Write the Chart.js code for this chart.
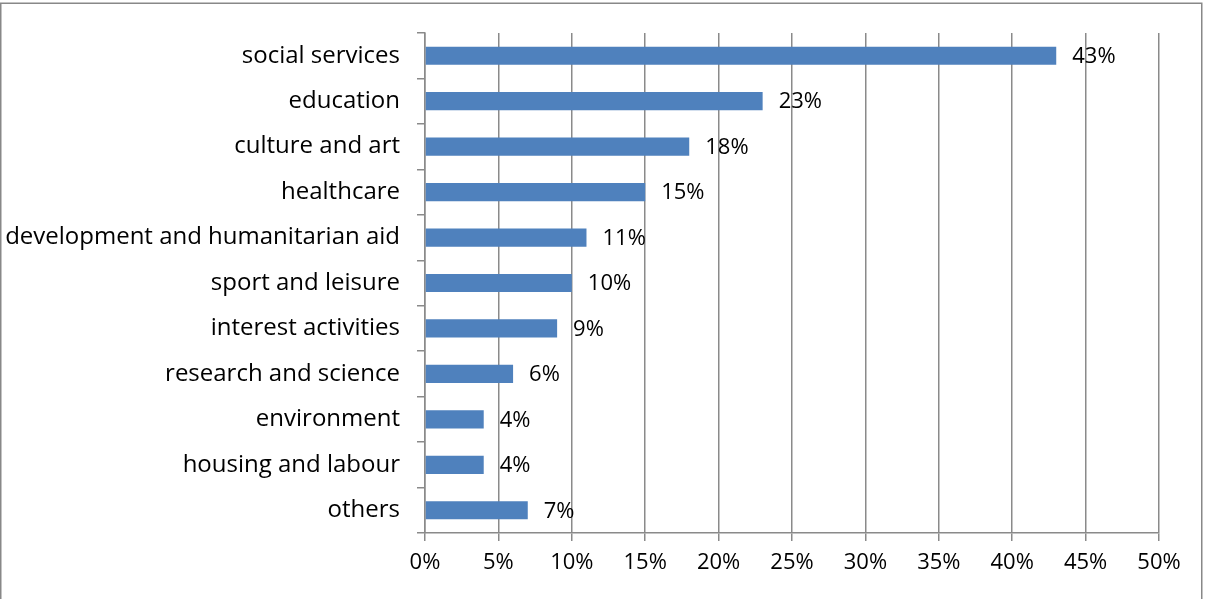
<!DOCTYPE html>
<html>
<head>
<meta charset="utf-8">
<script src="https://cdn.jsdelivr.net/npm/chart.js@4/dist/chart.umd.min.js"></script>
<style>
  html, body { margin: 0; padding: 0; background: #fff; }
  #wrap { width: 1211px; height: 599px; position: relative; }
</style>
</head>
<body>
<div id="wrap"><canvas id="sectorChart" width="1211" height="599"></canvas></div>
<script>
const categories = [
    'social services',
    'education',
    'culture and art',
    'healthcare',
    'development and humanitarian aid',
    'sport and leisure',
    'interest activities',
    'research and science',
    'environment',
    'housing and labour',
    'others'
];
const shares = [43, 23, 18, 15, 11, 10, 9, 6, 4, 4, 7];
const axisMax = 50;
const axisStep = 5;

const FONT = '"Open Sans", Lato, sans-serif';
const NUM_SIZE = 22;   // percentages
const CAT_SIZE = 24;   // category names
const LINE = '#8a8a8a';

// value labels to the right of each bar
const valueLabels = {
    id: 'valueLabels',
    afterDatasetsDraw(chart) {
        const ctx = chart.ctx;
        const meta = chart.getDatasetMeta(0);
        ctx.save();
        ctx.font = NUM_SIZE + 'px ' + FONT;
        ctx.fillStyle = '#000';
        ctx.textAlign = 'left';
        ctx.textBaseline = 'middle';
        meta.data.forEach((bar, i) => {
            ctx.fillText(shares[i] + '%', bar.x + 16, bar.y + 1);
        });
        ctx.restore();
    }
};

// thin frame around the whole chart
const frame = {
    id: 'frame',
    beforeDraw(chart) {
        const ctx = chart.ctx;
        ctx.save();
        ctx.strokeStyle = '#888';
        ctx.lineWidth = 1.5;
        ctx.strokeRect(0.75, 3.25, 1201, 600);
        ctx.restore();
    }
};

new Chart(document.getElementById('sectorChart').getContext('2d'), {
    type: 'bar',
    data: {
        labels: categories,
        datasets: [{
            data: shares,
            backgroundColor: '#4f81bd',
            borderWidth: 0,
            categoryPercentage: 0.8,
            barPercentage: 0.5
        }]
    },
    options: {
        indexAxis: 'y',
        responsive: false,
        animation: false,
        events: [],
        layout: { padding: { top: 33, right: 52, left: 0, bottom: 0 } },
        plugins: {
            legend: { display: false },
            tooltip: { enabled: false }
        },
        scales: {
            x: {
                min: 0,
                max: axisMax,
                afterFit(scale) { scale.height = 66; },
                ticks: {
                    stepSize: axisStep,
                    padding: 9,
                    color: '#000',
                    font: { family: FONT, size: NUM_SIZE },
                    callback: v => v + '%'
                },
                grid: { color: LINE, lineWidth: 1.5, tickLength: 8 },
                border: { color: LINE, width: 1.5 }
            },
            y: {
                afterFit(scale) { scale.width = 425; },
                ticks: {
                    padding: 17,
                    color: '#000',
                    font: { family: FONT, size: CAT_SIZE }
                },
                grid: { drawOnChartArea: false, color: LINE, lineWidth: 1.5, tickLength: 8 },
                border: { color: LINE, width: 1.5 }
            }
        }
    },
    plugins: [frame, valueLabels]
});
</script>
</body>
</html>
